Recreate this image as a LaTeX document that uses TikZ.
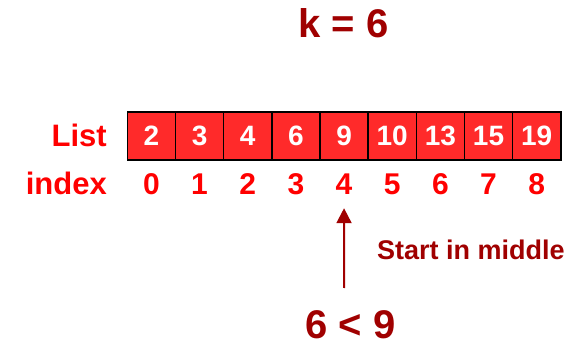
\documentclass[tikz,border=0pt]{standalone}
\usepackage{fontspec}
\setmainfont{Liberation Sans}
\usetikzlibrary{arrows.meta,positioning}
\definecolor{cellred}{HTML}{FF2A2A}
\definecolor{labelred}{HTML}{FF0000}
\definecolor{darkred}{HTML}{A00000}
\tikzset{
  cell/.style={
    draw=black, line width=1.5pt, fill=cellred, text=white,
    minimum width=48.16pt, minimum height=48pt, inner sep=0pt,
    font=\fontsize{28}{28}\selectfont\bfseries
  },
  idx/.style={
    text=labelred, inner sep=0pt, anchor=base,
    font=\fontsize{30}{30}\selectfont\bfseries
  },
  rowlabel/.style={
    text=labelred, inner sep=0pt, anchor=base east,
    font=\fontsize{31}{31}\selectfont\bfseries
  },
  note/.style={text=darkred, inner sep=0pt, font=\bfseries},
  arrow/.style={-{Triangle[length=15pt,width=15pt]}, line width=2pt, darkred},
}
\begin{document}
\begin{tikzpicture}[x=1pt, y=-1pt]
    \useasboundingbox (0,0) rectangle (578,347);
    \node[note, anchor=base, font=\fontsize{40}{40}\selectfont\bfseries] (key) at (343.5,38) {k = 6};
    \foreach \v [count=\i from 0] in {2,3,4,6,9,10,13,15,19}
      \node[cell] (c\i) at ({151.4+48.16*\i},136) {\v};
    \foreach \i in {0,...,8}
      \node[idx] (i\i) at ({151.4+48.16*\i},195) {\i};
    \node[rowlabel] (list) at (107,147) {List};
    \node[rowlabel] (index) at (107,195) {index};
    \node[note, anchor=base west, font=\fontsize{27}{27}\selectfont\bfseries] (start) at (377,260) {Start in middle};
    \node[note, anchor=base, font=\fontsize{40}{40}\selectfont\bfseries] (cmp) at (350.5,338) {6 < 9};
    \coordinate (tail) at (344,288);
    \draw[arrow] (tail) -- ([yshift=-13pt]i4.south);
  \end{tikzpicture}
\end{document}
